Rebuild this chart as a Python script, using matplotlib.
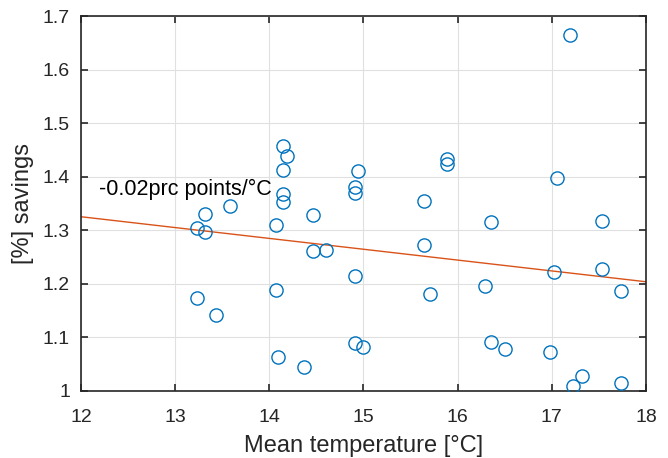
import matplotlib
matplotlib.use("Agg")
import matplotlib.pyplot as plt
import numpy as np

plt.rcParams['font.family'] = ['Liberation Sans', 'DejaVu Sans']

# mean temperature per sample [degC]
temp = [14.14, 14.19, 14.14, 14.14, 14.14, 14.94, 14.91, 14.91, 13.58, 13.32,
        14.46, 17.19, 15.89, 15.89, 17.05, 15.64, 13.23, 13.32, 14.07, 14.46,
        14.60, 14.91, 13.23, 13.43, 14.07, 14.09, 14.37, 14.91, 14.99, 16.35,
        17.53, 15.64, 17.02, 17.53, 16.29, 15.71, 17.74, 16.35, 16.50, 16.98,
        17.32, 17.22, 17.74]
# savings [%]
savings = [1.458, 1.439, 1.413, 1.367, 1.352, 1.411, 1.380, 1.370, 1.345, 1.331,
           1.328, 1.665, 1.432, 1.424, 1.397, 1.354, 1.304, 1.297, 1.309, 1.261,
           1.263, 1.215, 1.174, 1.141, 1.189, 1.063, 1.045, 1.090, 1.081, 1.315,
           1.317, 1.273, 1.222, 1.228, 1.196, 1.181, 1.186, 1.091, 1.077, 1.073,
           1.028, 1.009, 1.014]

# fitted trend line
fit_x = [12, 18]
fit_y = [1.325, 1.2035]
slope_label = "-0.02prc points/°C"

xticks = [12, 13, 14, 15, 16, 17, 18]
yticks = [1, 1.1, 1.2, 1.3, 1.4, 1.5, 1.6, 1.7]

fig = plt.figure(figsize=(6.68, 4.58), dpi=100)
ax = fig.add_axes([0.1213, 0.147, 0.8457, 0.818])

ax.plot(temp, savings, 'o', mfc='none', mec='#0072BD', ms=9.5, mew=1.0, zorder=3)
ax.plot(fit_x, fit_y, '-', color='#D95319', lw=1.0, zorder=2)
ax.text(12.19, 1.376, slope_label, fontsize=15.5, color='black', va='center', ha='left')

ax.set_xlim(12, 18)
ax.set_ylim(1, 1.7)
ax.set_xticks(xticks)
ax.set_xticklabels([str(t) for t in xticks])
ax.set_yticks(yticks)
ax.set_yticklabels(['1'] + ['%.1f' % t for t in yticks[1:]])
ax.grid(True, color='#e0e0e0', lw=0.8)
ax.set_axisbelow(True)

for s in ax.spines.values():
    s.set_color('#262626')
    s.set_linewidth(1.2)
ax.tick_params(direction='in', top=True, right=True, length=5, width=1.2,
               colors='#262626', labelsize=14)
ax.tick_params(axis='x', pad=13)
ax.tick_params(axis='y', pad=8)

ax.set_xlabel('Mean temperature [°C]', fontsize=17, color='#262626', labelpad=6.5)
ax.set_ylabel('[%] savings', fontsize=17, color='#262626', labelpad=6)

fig.savefig('out.png', dpi=100)
